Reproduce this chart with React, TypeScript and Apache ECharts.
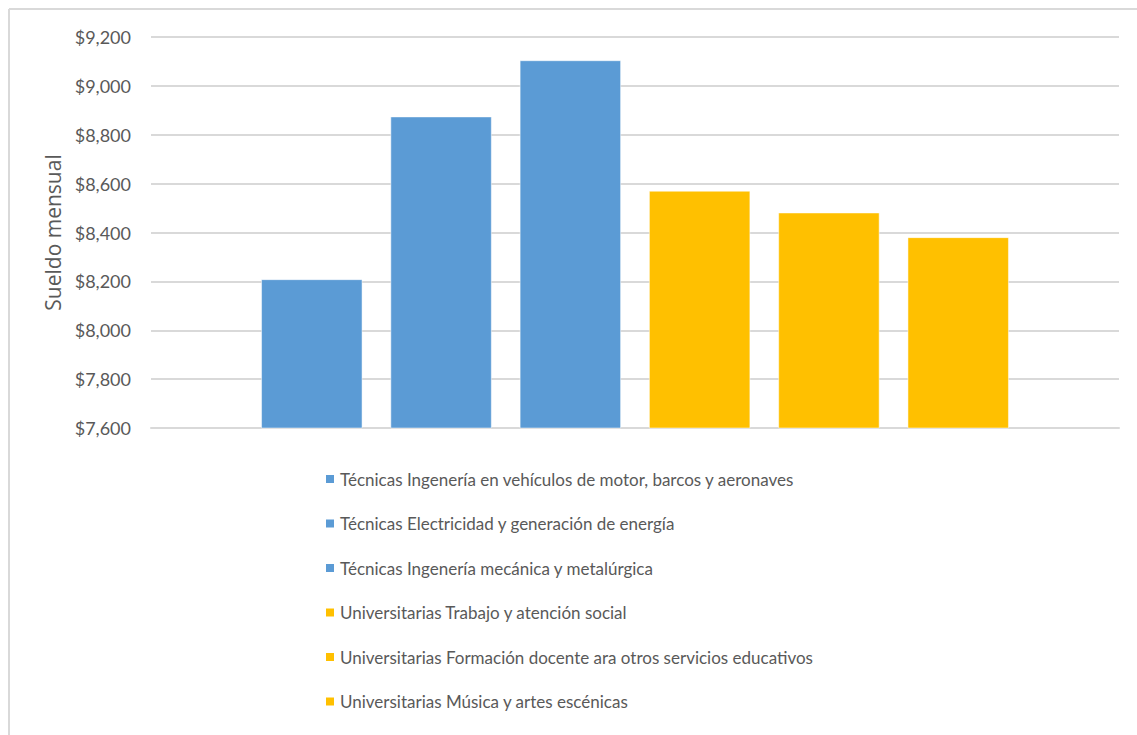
import React, { useEffect, useRef } from "react";
import * as echarts from "echarts";

const seriesNames = [
  "Técnicas Ingenería en vehículos de motor, barcos y aeronaves",
  "Técnicas Electricidad y generación de energía",
  "Técnicas Ingenería mecánica y metalúrgica",
  "Universitarias Trabajo y atención social",
  "Universitarias Formación docente ara otros servicios educativos",
  "Universitarias Música y artes escénicas",
];
const seriesValues = [8208, 8874, 9104, 8570, 8481, 8380];
const seriesColors = ["#5B9BD5", "#5B9BD5", "#5B9BD5", "#FFC000", "#FFC000", "#FFC000"];
const categories = [""];
const yAxisTitle = "Sueldo mensual";
const yMin = 7600;
const yMax = 9200;
const yStep = 200;

export default function App() {
  const ref = useRef<HTMLDivElement>(null);
  useEffect(() => {
    if (!ref.current) return;
    const chart = echarts.init(ref.current, undefined, { renderer: "svg" });
    const textColor = "#595959";
    chart.setOption({
      animation: false,
      backgroundColor: "#ffffff",
      grid: { left: 151, right: 18, top: 37, bottom: 307, containLabel: false },
      xAxis: {
        type: "category",
        data: categories,
        axisLine: { show: true, lineStyle: { color: "#d9d9d9", width: 2 } },
        axisTick: { show: false },
        axisLabel: { show: false },
      },
      yAxis: {
        type: "value",
        min: yMin,
        max: yMax,
        interval: yStep,
        name: yAxisTitle,
        nameLocation: "middle",
        nameGap: 88,
        nameRotate: 90,
        nameTextStyle: { color: textColor, fontFamily: "Open Sans", fontSize: 21 },
        axisLine: { show: false },
        axisTick: { show: false },
        axisLabel: {
          color: textColor,
          fontFamily: "Lato",
          fontSize: 18,
          margin: 20,
          formatter: (v: number) => "$" + v.toLocaleString("en-US"),
        },
        splitLine: { lineStyle: { color: "#d9d9d9", width: 2 } },
      },
      legend: {
        orient: "vertical",
        left: 319,
        top: 464,
        itemWidth: 10,
        itemHeight: 10,
        itemGap: 24.5,
        icon: "rect",
        textStyle: { color: textColor, fontFamily: "Lato", fontSize: 17, lineHeight: 20 },
        data: seriesNames,
      },
      graphic: [
        { type: "line", shape: { x1: 9, y1: 9, x2: 1137, y2: 9 }, style: { stroke: "#d9d9d9", lineWidth: 2 } },
        { type: "line", shape: { x1: 9, y1: 9, x2: 9, y2: 735 }, style: { stroke: "#d9d9d9", lineWidth: 2 } },
      ],
      series: seriesNames.map((name, i) => ({
        name,
        type: "bar",
        data: [seriesValues[i]],
        barWidth: 101,
        barGap: "28%",
        itemStyle: { color: seriesColors[i], borderColor: "#ffffff", borderWidth: 0.5 },
      })),
    });
    return () => chart.dispose();
  }, []);
  return (
    <div
      ref={ref}
      style={{ position: "absolute", left: 0, top: 0, width: 1137, height: 735 }}
    />
  );
}
